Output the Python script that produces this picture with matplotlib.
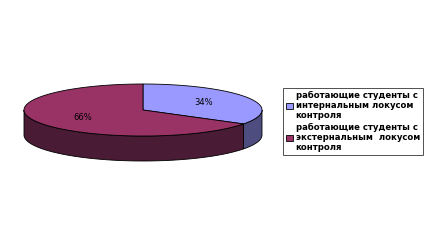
import numpy as np
import matplotlib.pyplot as plt
from matplotlib.patches import Polygon, Patch

labels = ['работающие студенты с\nинтернальным локусом\nконтроля',
          'работающие студенты с\nэкстернальным  локусом\nконтроля']
shares = [34, 66]
top_colors = ['#9999FF', '#993366']
side_colors = ['#4D4D80', '#4A1B35']

# pie geometry in pixels
cx, cy, rx, ry, depth = 143, 135, 119, 26, 25

fig = plt.figure(figsize=(4.31, 2.45), dpi=100)
ax = fig.add_axes([0, 0, 1, 1])
ax.set_xlim(0, 431)
ax.set_ylim(0, 245)
ax.axis('off')


def ell(t, dz=0):
    return np.column_stack([cx + rx * np.cos(t), cy + ry * np.sin(t) - dz])


fracs = np.array(shares) / sum(shares)
start = np.pi / 2
bounds = []
for f in fracs:
    end = start - f * 2 * np.pi
    bounds.append((end, start))
    start = end

# sides: only the front half (sin < 0) is visible
for (a, b), c in zip(bounds, side_colors):
    for off in (0, -2 * np.pi, 2 * np.pi):
        lo = max(a + off, -np.pi)
        hi = min(b + off, 0)
        if hi > lo:
            t = np.linspace(lo, hi, 80)
            pts = np.vstack([ell(t), ell(t[::-1], depth)])
            ax.add_patch(Polygon(pts, closed=True, fc=c, ec='black', lw=0.6))

# top face
for (a, b), c in zip(bounds, top_colors):
    t = np.linspace(a, b, 200)
    pts = np.vstack([[cx, cy], ell(t)])
    ax.add_patch(Polygon(pts, closed=True, fc=c, ec='black', lw=0.6))

# percentage labels
for (a, b), s in zip(bounds, shares):
    m = (a + b) / 2
    x = cx + 0.58 * rx * np.cos(m)
    y = cy + 0.62 * ry * np.sin(m)
    ax.text(x, y, f'{s}%', ha='center', va='center', fontsize=6,
            color='black')

handles = [Patch(fc=c, ec='black', lw=0.6) for c in top_colors]
leg = ax.legend(handles, labels, loc='upper left',
                bbox_to_anchor=(283 / 431, 1 - 88 / 245),
                fontsize=6.1, frameon=True, fancybox=False,
                edgecolor='black', handlelength=0.9, handleheight=0.7,
                handletextpad=0.3, borderpad=0.3, labelspacing=0.25,
                borderaxespad=0)
leg.get_frame().set_linewidth(0.6)
for t in leg.get_texts():
    t.set_fontweight('bold')

fig.savefig('out.png', dpi=100)
